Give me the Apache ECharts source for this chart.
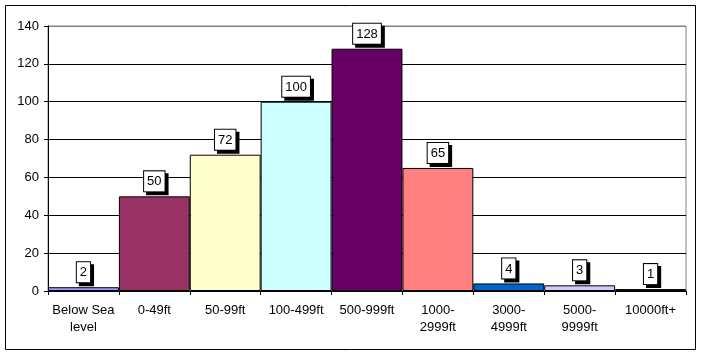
<!DOCTYPE html>
<html><head><meta charset="utf-8">
<script src="https://cdn.jsdelivr.net/npm/echarts@6/dist/echarts.min.js"></script>
<style>html,body{margin:0;padding:0;background:#fff}#c{width:701px;height:355px}</style>
</head><body><div id="c"></div>
<script>
var categories = ['Below Sea\nlevel', '0-49ft', '50-99ft', '100-499ft', '500-999ft', '1000-\n2999ft', '3000-\n4999ft', '5000-\n9999ft', '10000ft+'];
var counts = [2, 50, 72, 100, 128, 65, 4, 3, 1];
var barColors = ['#9999FF', '#993366', '#FFFFCC', '#CCFFFF', '#660066', '#FF8080', '#0066CC', '#CCCCFF', '#000080'];
var yTicks = [0, 20, 40, 60, 80, 100, 120, 140];

var chart = echarts.init(document.getElementById('c'), null, {renderer: 'canvas'});
var font = 'Arial, "Liberation Sans", sans-serif';
chart.setOption({
  animation: false,
  backgroundColor: '#ffffff',
  graphic: [{
    type: 'rect', shape: {x: 5.5, y: 5.5, width: 690, height: 344},
    style: {fill: 'none', stroke: '#000', lineWidth: 1}, silent: true, z: 100
  }],
  grid: {left: 48, right: 15, top: 26, bottom: 64, show: true, borderColor: '#808080', borderWidth: 1, backgroundColor: 'transparent'},
  xAxis: {
    type: 'category', data: categories, boundaryGap: true,
    axisLine: {lineStyle: {color: '#000', width: 1}},
    axisTick: {show: true, interval: 0, length: 4, lineStyle: {color: '#000'}},
    axisLabel: {interval: 0, color: '#000', fontFamily: font, fontSize: 13, lineHeight: 17, margin: 11}
  },
  yAxis: {
    type: 'value', min: yTicks[0], max: yTicks[yTicks.length - 1], interval: 20,
    axisLine: {show: true, lineStyle: {color: '#000', width: 1}},
    axisTick: {show: true, length: 4, lineStyle: {color: '#000'}},
    axisLabel: {color: '#000', fontFamily: font, fontSize: 13, margin: 9},
    splitLine: {show: true, lineStyle: {color: ['#000', '#000', '#000', '#000', '#000', '#000', '#000', '#808080'], width: 1}}
  },
  series: [{
    type: 'bar', barCategoryGap: 0, barGap: 0,
    data: counts.map(function (v, i) { return {value: v, itemStyle: {color: barColors[i]}}; }),
    itemStyle: {borderColor: '#000', borderWidth: 1},
    label: {
      show: true, position: 'top', distance: 5,
      color: '#000', fontFamily: font, fontSize: 13, lineHeight: 15,
      backgroundColor: '#fff', borderColor: '#000', borderWidth: 1,
      padding: [3, 3, 2, 3],
      shadowColor: '#000', shadowOffsetX: 3, shadowOffsetY: 3, shadowBlur: 0
    }
  }]
});
</script></body></html>
